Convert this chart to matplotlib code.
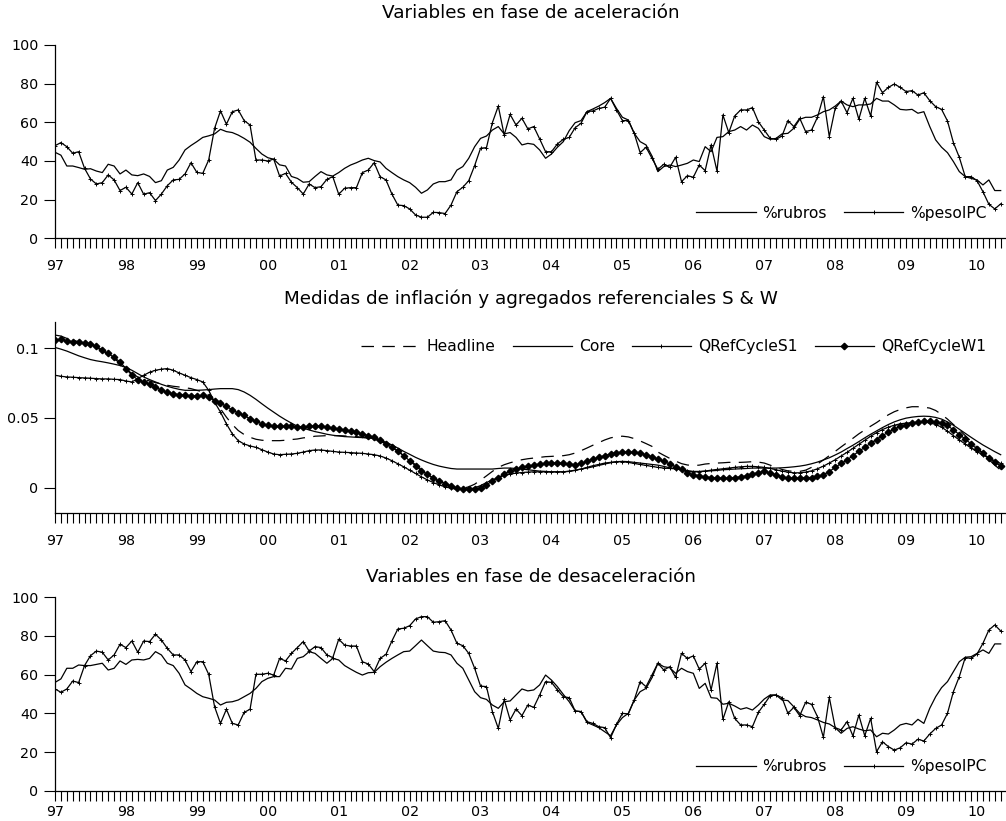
import numpy as np
import matplotlib.pyplot as plt

plt.rcParams['font.family'] = ['DejaVu Sans']
plt.rcParams['lines.scale_dashes'] = False

# Monthly data, Jan 1997 - May 2010
year_labels = ['97', '98', '99', '00', '01', '02', '03', '04', '05', '06', '07', '08', '09', '10']

acel_rubros = [
    44.5, 43.0, 37.4, 37.4, 36.6, 35.7, 36.0, 34.8, 34.0, 38.3, 37.4, 33.3,
    35.3, 32.8, 32.4, 33.3, 32.0, 28.8, 29.8, 35.3, 36.7, 40.5, 45.7, 48.0,
    50.0, 52.2, 53.0, 54.0, 56.4, 55.2, 54.7, 53.4, 51.7, 49.7, 46.5, 43.6,
    41.7, 40.9, 38.0, 37.4, 32.0, 31.0, 29.0, 29.3, 32.0, 34.5, 32.8, 32.2,
    34.0, 36.2, 37.9, 39.1, 40.5, 41.4, 40.2, 39.5, 36.2, 34.0, 31.9, 30.2,
    28.8, 26.4, 23.3, 25.0, 28.1, 29.3, 29.3, 30.2, 35.3, 37.1, 41.4, 47.4,
    51.7, 52.9, 56.0, 57.8, 54.0, 54.7, 52.2, 48.3, 49.1, 48.6, 45.7, 41.4,
    43.6, 47.1, 50.0, 55.7, 59.8, 60.9, 65.5, 66.9, 68.4, 70.2, 72.4, 67.2,
    62.6, 61.2, 54.3, 50.0, 48.3, 42.6, 34.5, 37.1, 37.9, 37.1, 37.9, 38.8,
    40.5, 39.7, 47.4, 44.8, 52.2, 52.6, 55.2, 56.0, 57.8, 56.0, 58.6, 56.9,
    52.6, 51.2, 51.7, 54.0, 54.3, 56.9, 61.6, 62.6, 62.6, 63.8, 65.5, 66.4,
    68.4, 71.0, 69.0, 68.1, 69.0, 69.0, 69.5, 72.4, 71.0, 71.0, 69.0, 66.7,
    66.4, 66.7, 64.7, 65.5, 57.8, 50.9, 47.1, 44.3, 39.7, 34.5, 31.9, 31.0,
    30.2, 27.6, 30.2, 24.7, 24.7,
]
acel_peso = [
    47.9, 49.5, 47.4, 44.0, 44.8, 36.2, 30.7, 28.1, 28.8, 32.8, 30.2, 24.7,
    26.4, 22.9, 28.8, 22.8, 23.6, 19.5, 22.9, 27.2, 30.2, 30.5, 33.3, 39.1,
    34.1, 33.6, 40.5, 56.9, 65.9, 59.0, 65.5, 66.4, 60.9, 58.6, 40.5, 40.5,
    40.0, 41.0, 32.2, 33.6, 29.0, 26.2, 22.9, 28.1, 26.2, 26.7, 30.5, 31.9,
    22.8, 25.9, 26.2, 26.2, 34.0, 35.3, 39.1, 31.9, 30.2, 22.9, 17.2, 16.9,
    15.2, 12.1, 10.9, 10.9, 13.4, 13.3, 12.8, 17.2, 24.1, 26.4, 29.8, 37.6,
    46.6, 46.9, 59.8, 68.4, 53.4, 64.1, 58.6, 62.1, 56.6, 57.8, 51.4, 44.8,
    44.8, 48.8, 51.2, 52.2, 57.2, 59.5, 65.5, 65.9, 67.2, 67.8, 72.4, 66.4,
    60.9, 60.9, 54.3, 44.3, 47.1, 41.4, 35.7, 38.3, 36.7, 41.9, 29.3, 32.4,
    31.6, 37.9, 35.0, 48.3, 34.8, 63.8, 54.7, 63.3, 66.4, 66.4, 67.6, 60.3,
    56.0, 51.7, 51.2, 52.9, 60.9, 57.8, 62.1, 55.2, 56.0, 62.6, 73.3, 52.6,
    67.2, 71.0, 65.0, 72.4, 61.6, 72.4, 63.3, 80.7, 75.3, 78.1, 79.8, 78.1,
    75.9, 76.4, 74.1, 75.3, 71.2, 68.1, 66.7, 60.7, 49.5, 41.9, 31.9, 31.9,
    29.8, 24.1, 17.6, 15.2, 17.8,
]

headline = [
    0.1096, 0.1089, 0.1072, 0.1060, 0.1048, 0.1036, 0.1024, 0.1007, 0.0983, 0.0959, 0.0928, 0.0892,
    0.0855, 0.0819, 0.0795, 0.0778, 0.0766, 0.0754, 0.0745, 0.0735, 0.0728, 0.0723, 0.0718, 0.0711,
    0.0699, 0.0687, 0.0663, 0.0622, 0.0566, 0.0506, 0.0453, 0.0410, 0.0381, 0.0361, 0.0347, 0.0340,
    0.0337, 0.0337, 0.0337, 0.0340, 0.0345, 0.0349, 0.0357, 0.0361, 0.0369, 0.0371, 0.0373, 0.0373,
    0.0373, 0.0371, 0.0369, 0.0366, 0.0361, 0.0357, 0.0347, 0.0333, 0.0313, 0.0289, 0.0260, 0.0229,
    0.0198, 0.0164, 0.0130, 0.0096, 0.0067, 0.0043, 0.0024, 0.0010, 0.0000, -0.0005, 0.0005, 0.0024,
    0.0053, 0.0084, 0.0116, 0.0145, 0.0164, 0.0178, 0.0190, 0.0200, 0.0207, 0.0212, 0.0217, 0.0222,
    0.0224, 0.0227, 0.0229, 0.0236, 0.0248, 0.0265, 0.0284, 0.0304, 0.0323, 0.0342, 0.0357, 0.0366,
    0.0369, 0.0364, 0.0352, 0.0335, 0.0316, 0.0296, 0.0255, 0.0232, 0.0210, 0.0190, 0.0172, 0.0162,
    0.0158, 0.0161, 0.0169, 0.0173, 0.0176, 0.0178, 0.0181, 0.0181, 0.0181, 0.0183, 0.0186, 0.0183,
    0.0176, 0.0161, 0.0145, 0.0130, 0.0120, 0.0116, 0.0116, 0.0125, 0.0145, 0.0169, 0.0198, 0.0229,
    0.0260, 0.0292, 0.0323, 0.0354, 0.0386, 0.0414, 0.0441, 0.0467, 0.0496, 0.0523, 0.0545, 0.0561,
    0.0573, 0.0581, 0.0581, 0.0578, 0.0571, 0.0554, 0.0525, 0.0492, 0.0453, 0.0414, 0.0373, 0.0333,
    0.0289, 0.0246, 0.0202, 0.0161, 0.0125,
]
core = [
    0.1007, 0.0995, 0.0981, 0.0964, 0.0947, 0.0933, 0.0920, 0.0911, 0.0904, 0.0896, 0.0887, 0.0877,
    0.0863, 0.0843, 0.0819, 0.0795, 0.0776, 0.0759, 0.0742, 0.0728, 0.0716, 0.0706, 0.0699, 0.0699,
    0.0699, 0.0701, 0.0704, 0.0708, 0.0711, 0.0711, 0.0711, 0.0704, 0.0687, 0.0663, 0.0634, 0.0602,
    0.0571, 0.0542, 0.0513, 0.0487, 0.0463, 0.0441, 0.0427, 0.0414, 0.0402, 0.0393, 0.0383, 0.0376,
    0.0371, 0.0366, 0.0364, 0.0361, 0.0359, 0.0357, 0.0352, 0.0342, 0.0325, 0.0306, 0.0284, 0.0260,
    0.0239, 0.0217, 0.0198, 0.0181, 0.0166, 0.0154, 0.0145, 0.0137, 0.0133, 0.0133, 0.0133, 0.0133,
    0.0133, 0.0133, 0.0133, 0.0137, 0.0140, 0.0140, 0.0137, 0.0133, 0.0128, 0.0123, 0.0118, 0.0116,
    0.0113, 0.0113, 0.0113, 0.0118, 0.0125, 0.0133, 0.0140, 0.0149, 0.0159, 0.0169, 0.0178, 0.0186,
    0.0188, 0.0186, 0.0181, 0.0176, 0.0171, 0.0166, 0.0161, 0.0152, 0.0142, 0.0135, 0.0128, 0.0120,
    0.0116, 0.0116, 0.0118, 0.0120, 0.0123, 0.0128, 0.0130, 0.0133, 0.0135, 0.0137, 0.0140, 0.0140,
    0.0140, 0.0140, 0.0140, 0.0142, 0.0145, 0.0149, 0.0154, 0.0161, 0.0171, 0.0183, 0.0198, 0.0214,
    0.0234, 0.0255, 0.0280, 0.0304, 0.0330, 0.0357, 0.0383, 0.0407, 0.0431, 0.0453, 0.0472, 0.0487,
    0.0499, 0.0506, 0.0511, 0.0513, 0.0511, 0.0504, 0.0492, 0.0472, 0.0448, 0.0419, 0.0390, 0.0361,
    0.0333, 0.0306, 0.0282, 0.0258, 0.0236,
]
ref_s1 = [
    0.0807, 0.0800, 0.0795, 0.0793, 0.0790, 0.0788, 0.0786, 0.0783, 0.0781, 0.0781, 0.0778, 0.0776,
    0.0766, 0.0759, 0.0783, 0.0807, 0.0829, 0.0843, 0.0851, 0.0855, 0.0843, 0.0824, 0.0807, 0.0790,
    0.0776, 0.0759, 0.0699, 0.0614, 0.0542, 0.0458, 0.0386, 0.0337, 0.0313, 0.0299, 0.0289, 0.0272,
    0.0255, 0.0241, 0.0236, 0.0239, 0.0241, 0.0246, 0.0255, 0.0265, 0.0270, 0.0270, 0.0265, 0.0260,
    0.0255, 0.0253, 0.0251, 0.0248, 0.0246, 0.0241, 0.0236, 0.0227, 0.0212, 0.0193, 0.0171, 0.0149,
    0.0125, 0.0101, 0.0077, 0.0055, 0.0036, 0.0019, 0.0005, -0.0005, -0.0012, -0.0014, -0.0012, -0.0002,
    0.0014, 0.0036, 0.0055, 0.0072, 0.0087, 0.0096, 0.0104, 0.0108, 0.0111, 0.0113, 0.0113, 0.0113,
    0.0113, 0.0113, 0.0113, 0.0116, 0.0123, 0.0133, 0.0145, 0.0157, 0.0166, 0.0176, 0.0181, 0.0186,
    0.0186, 0.0181, 0.0173, 0.0166, 0.0159, 0.0152, 0.0145, 0.0140, 0.0137, 0.0135, 0.0133, 0.0120,
    0.0113, 0.0113, 0.0118, 0.0125, 0.0130, 0.0135, 0.0140, 0.0145, 0.0149, 0.0152, 0.0152, 0.0149,
    0.0145, 0.0137, 0.0128, 0.0118, 0.0111, 0.0106, 0.0106, 0.0111, 0.0120, 0.0135, 0.0154, 0.0176,
    0.0200, 0.0227, 0.0253, 0.0282, 0.0311, 0.0340, 0.0369, 0.0395, 0.0417, 0.0434, 0.0448, 0.0458,
    0.0463, 0.0467, 0.0470, 0.0470, 0.0465, 0.0453, 0.0434, 0.0405, 0.0373, 0.0342, 0.0313, 0.0284,
    0.0258, 0.0234, 0.0212, 0.0193, 0.0173,
]
ref_w1 = [
    0.1060, 0.1065, 0.1055, 0.1048, 0.1043, 0.1039, 0.1031, 0.1017, 0.0988, 0.0964, 0.0935, 0.0904,
    0.0855, 0.0807, 0.0776, 0.0759, 0.0742, 0.0723, 0.0699, 0.0684, 0.0675, 0.0667, 0.0663, 0.0660,
    0.0658, 0.0663, 0.0651, 0.0622, 0.0607, 0.0583, 0.0559, 0.0535, 0.0518, 0.0494, 0.0477, 0.0458,
    0.0446, 0.0439, 0.0439, 0.0439, 0.0439, 0.0434, 0.0434, 0.0439, 0.0439, 0.0441, 0.0434, 0.0427,
    0.0419, 0.0414, 0.0405, 0.0398, 0.0386, 0.0373, 0.0361, 0.0342, 0.0313, 0.0289, 0.0265, 0.0229,
    0.0193, 0.0157, 0.0120, 0.0096, 0.0067, 0.0048, 0.0029, 0.0012, -0.0005, -0.0012, -0.0012, -0.0012,
    0.0000, 0.0019, 0.0048, 0.0072, 0.0096, 0.0120, 0.0133, 0.0145, 0.0154, 0.0161, 0.0169, 0.0173,
    0.0176, 0.0176, 0.0173, 0.0169, 0.0164, 0.0173, 0.0188, 0.0205, 0.0217, 0.0229, 0.0241, 0.0251,
    0.0253, 0.0253, 0.0253, 0.0246, 0.0236, 0.0222, 0.0205, 0.0188, 0.0170, 0.0149, 0.0133, 0.0108,
    0.0092, 0.0084, 0.0077, 0.0072, 0.0067, 0.0067, 0.0067, 0.0072, 0.0077, 0.0084, 0.0096, 0.0108,
    0.0116, 0.0106, 0.0092, 0.0077, 0.0067, 0.0067, 0.0067, 0.0072, 0.0072, 0.0080, 0.0092, 0.0115,
    0.0145, 0.0173, 0.0198, 0.0229, 0.0260, 0.0289, 0.0318, 0.0345, 0.0373, 0.0398, 0.0422, 0.0439,
    0.0453, 0.0463, 0.0470, 0.0475, 0.0475, 0.0470, 0.0463, 0.0446, 0.0414, 0.0381, 0.0349, 0.0313,
    0.0277, 0.0246, 0.0212, 0.0181, 0.0157,
]

desacel_rubros = [
    56.0, 57.8, 63.3, 63.3, 65.0, 64.7, 64.7, 65.3, 65.9, 62.4, 63.3, 67.1,
    65.3, 67.6, 67.9, 67.6, 68.4, 71.9, 70.2, 65.9, 64.7, 60.7, 54.7, 52.6,
    50.3, 48.6, 47.8, 46.9, 44.3, 45.7, 46.0, 46.9, 48.6, 50.3, 52.9, 56.4,
    58.1, 59.0, 59.0, 63.3, 62.9, 68.4, 69.3, 71.9, 71.0, 68.4, 65.9, 68.4,
    67.6, 64.7, 62.9, 61.2, 59.8, 61.0, 61.2, 64.1, 66.4, 68.4, 70.2, 71.9,
    72.2, 75.0, 77.9, 75.0, 72.2, 71.6, 71.4, 70.2, 65.9, 63.3, 57.2, 51.2,
    48.1, 47.2, 44.3, 42.6, 46.0, 46.4, 49.5, 52.6, 51.6, 52.1, 54.7, 59.8,
    57.2, 53.8, 49.8, 46.0, 41.2, 40.9, 35.3, 34.0, 32.6, 30.5, 28.4, 34.0,
    37.8, 40.0, 46.9, 51.2, 52.9, 58.4, 65.9, 64.1, 63.6, 60.7, 63.3, 61.6,
    60.7, 52.9, 55.5, 48.1, 47.8, 44.7, 45.2, 43.8, 42.1, 42.9, 41.7, 44.3,
    47.4, 49.5, 49.5, 46.9, 46.6, 43.4, 40.0, 38.3, 37.8, 36.6, 35.3, 34.5,
    32.6, 29.7, 32.2, 33.1, 31.9, 31.0, 31.4, 27.9, 29.7, 29.3, 31.4, 34.0,
    34.8, 34.0, 36.9, 34.8, 42.6, 48.6, 53.3, 56.4, 61.6, 66.7, 69.0, 69.3,
    71.0, 72.8, 71.0, 75.9, 75.9,
]
desacel_peso = [
    52.6, 50.9, 52.6, 56.7, 55.9, 64.7, 69.8, 72.2, 71.6, 67.6, 70.2, 75.7,
    74.0, 77.4, 71.6, 77.4, 77.1, 80.9, 77.9, 73.6, 70.2, 70.2, 67.6, 61.6,
    66.7, 66.7, 60.2, 43.4, 34.8, 42.1, 34.8, 34.0, 40.5, 42.1, 60.2, 60.2,
    60.7, 59.8, 68.4, 67.1, 71.0, 74.0, 77.1, 72.2, 74.5, 74.0, 70.2, 68.8,
    78.3, 75.3, 74.8, 74.8, 66.7, 65.5, 61.6, 68.4, 70.5, 77.4, 83.6, 84.0,
    85.3, 88.8, 90.0, 90.0, 87.1, 87.4, 87.9, 83.1, 76.2, 75.0, 71.0, 63.3,
    54.1, 53.8, 40.9, 32.2, 47.2, 36.6, 42.2, 38.8, 44.3, 43.1, 49.5, 56.4,
    56.0, 52.1, 48.6, 48.1, 41.2, 40.9, 35.7, 34.8, 33.1, 32.6, 27.4, 34.3,
    40.0, 39.7, 46.9, 56.4, 53.8, 59.8, 65.9, 62.4, 64.1, 58.6, 71.0, 68.4,
    69.7, 62.9, 65.9, 52.1, 65.9, 36.9, 46.0, 37.4, 34.0, 34.0, 33.1, 40.5,
    44.7, 49.1, 49.5, 48.1, 40.0, 43.1, 38.8, 45.7, 44.7, 38.3, 27.6, 48.3,
    32.6, 31.4, 35.7, 28.3, 39.1, 28.4, 37.4, 20.2, 25.3, 22.8, 21.0, 22.2,
    24.8, 24.1, 26.6, 25.7, 29.3, 32.2, 34.0, 40.0, 51.2, 59.0, 68.8, 68.4,
    70.7, 76.2, 83.1, 85.7, 82.6,
]

n = len(acel_rubros)
x = np.arange(n)
W, H = 1006, 821
TICK_FS, LEG_FS, TITLE_FS = 10.3, 11.2, 13.2


def style_axis(ax, ylim, yticks, yticklabels, xpad=8):
    for s in ['top', 'right']:
        ax.spines[s].set_visible(False)
    for s in ['left', 'bottom']:
        ax.spines[s].set_linewidth(0.9)
    ax.set_xlim(0, 160.9)
    ax.set_ylim(*ylim)
    ax.set_xticks(np.arange(0, n, 12))
    ax.set_xticklabels(year_labels)
    ax.set_xticks(np.arange(n), minor=True)
    ax.set_yticks(yticks)
    ax.set_yticklabels(yticklabels)
    ax.tick_params(axis='x', which='both', direction='out', length=7, width=0.8, pad=xpad, labelsize=TICK_FS)
    ax.tick_params(axis='y', direction='out', length=8, width=0.8, pad=4, labelsize=TICK_FS)


def rect(top, bottom):
    return [55 / W, 1 - bottom / H, 951 / W, (bottom - top) / H]


leg_kw = dict(frameon=False, fontsize=LEG_FS, handlelength=3.8, handletextpad=0.45,
              columnspacing=1.1, borderpad=0)

fig = plt.figure(figsize=(W / 100, H / 100), dpi=100)

# Panel 1
ax = fig.add_axes(rect(45, 238.3))
ax.plot(x, acel_rubros, color='black', lw=0.9, label='%rubros')
ax.plot(x, acel_peso, color='black', lw=0.9, marker='+', ms=3.5, mew=0.7, label='%pesoIPC')
style_axis(ax, (0, 100), [0, 20, 40, 60, 80, 100], ['0', '20', '40', '60', '80', '100'])
ax.legend(loc='center right', bbox_to_anchor=(0.988, 0.13), ncol=2, **leg_kw)
ax.text(0.5, 1.165, 'Variables en fase de aceleración', transform=ax.transAxes,
        ha='center', va='center', fontsize=TITLE_FS)

# Panel 2
ax = fig.add_axes(rect(322, 513))
ax.plot(x, headline, color='black', lw=0.9, linestyle=(0, (9, 6)), label='Headline')
ax.plot(x, core, color='black', lw=0.9, label='Core')
ax.plot(x, ref_s1, color='black', lw=0.9, marker='+', ms=3.5, mew=0.7, label='QRefCycleS1')
ax.plot(x, ref_w1, color='black', lw=0.9, marker='D', ms=3.3, label='QRefCycleW1')
style_axis(ax, (-0.0183, 0.119), [0, 0.05, 0.1], ['0', '0.05', '0.1'])
ax.legend(loc='center', bbox_to_anchor=(0.650, 0.871), ncol=4, **leg_kw)
ax.text(0.5, 1.12, 'Medidas de inflación y agregados referenciales S & W', transform=ax.transAxes,
        ha='center', va='center', fontsize=TITLE_FS)

# Panel 3
ax = fig.add_axes(rect(597.3, 790.7))
ax.plot(x, desacel_rubros, color='black', lw=0.9, label='%rubros')
ax.plot(x, desacel_peso, color='black', lw=0.9, marker='+', ms=3.5, mew=0.7, label='%pesoIPC')
style_axis(ax, (0, 100), [0, 20, 40, 60, 80, 100], ['0', '20', '40', '60', '80', '100'], xpad=3.5)
ax.legend(loc='center right', bbox_to_anchor=(0.988, 0.124), ncol=2, **leg_kw)
ax.text(0.5, 1.107, 'Variables en fase de desaceleración', transform=ax.transAxes,
        ha='center', va='center', fontsize=TITLE_FS)

fig.savefig('out.png', dpi=100)
